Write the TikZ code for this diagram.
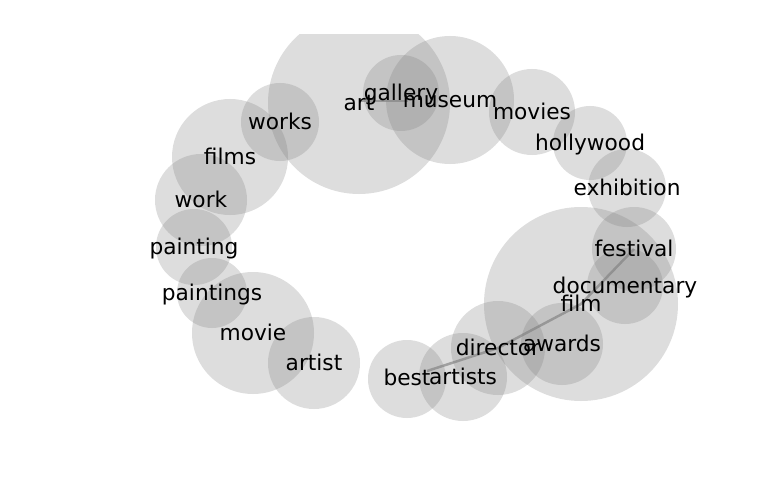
\documentclass[tikz,border=0pt]{standalone}
\usepackage{fontspec}
\setmainfont{DejaVu Sans}
\begin{document}
\begin{tikzpicture}[x=1pt,y=-1pt,
  bubble/.style={circle,draw=none,fill=gray,fill opacity=0.27,inner sep=0pt,minimum size=#1},
  word/.style={inner sep=0pt,text height=0.76em,text depth=0.236em,yshift=-5pt,font=\fontsize{21.7}{26}\selectfont,text=black},
  trail/.style={draw=gray,line width=2.5pt,draw opacity=0.65,line cap=butt,line join=round}]
\useasboundingbox (0,0) rectangle (768,500);
\begin{scope}
\clip (0,35) rectangle (768,500);
\node[bubble=182pt] (c-art) at (359,103) {};
\node[bubble=76pt] (c-gallery) at (401,93) {};
\node[bubble=128pt] (c-museum) at (450,100) {};
\node[bubble=86pt] (c-movies) at (532,112) {};
\node[bubble=74pt] (c-hollywood) at (590,143) {};
\node[bubble=78pt] (c-exhibition) at (627,188) {};
\node[bubble=84pt] (c-festival) at (634,249) {};
\node[bubble=76pt] (c-documentary) at (625,286) {};
\node[bubble=194pt] (c-film) at (581,304) {};
\node[bubble=82pt] (c-awards) at (562,344) {};
\node[bubble=94pt] (c-director) at (498,348) {};
\node[bubble=88pt] (c-artists) at (463,377) {};
\node[bubble=78pt] (c-best) at (407,379) {};
\node[bubble=92pt] (c-artist) at (314,363) {};
\node[bubble=122pt] (c-movie) at (253,333) {};
\node[bubble=70pt] (c-paintings) at (212,293) {};
\node[bubble=76pt] (c-painting) at (194,247) {};
\node[bubble=92pt] (c-work) at (201,200) {};
\node[bubble=116pt] (c-films) at (230,157) {};
\node[bubble=78pt] (c-works) at (280,122) {};
\end{scope}
\coordinate (artstart) at (359,101);
\coordinate (artend) at (408,101);
\coordinate (filmstart) at (427,371);
\draw[trail] (artstart) -- (artend);
\draw[trail] (filmstart) -- (c-director.center) -- (c-film.center) -- (c-festival.center);
\node[word] (art) at (359,103) {art};
\node[word] (gallery) at (401,93) {gallery};
\node[word] (museum) at (450,100) {museum};
\node[word] (movies) at (532,112) {movies};
\node[word] (hollywood) at (590,143) {hollywood};
\node[word] (exhibition) at (627,188) {exhibition};
\node[word] (festival) at (634,249) {festival};
\node[word] (documentary) at (625,286) {documentary};
\node[word] (film) at (581,304) {film};
\node[word] (awards) at (562,344) {awards};
\node[word] (director) at (498,348) {director};
\node[word] (artists) at (463,377) {artists};
\node[word] (best) at (407,378) {best};
\node[word] (artist) at (314,363) {artist};
\node[word] (movie) at (253,333) {movie};
\node[word] (paintings) at (212,293) {paintings};
\node[word] (painting) at (194,247) {painting};
\node[word] (work) at (201,200) {work};
\node[word] (films) at (230,157) {films};
\node[word] (works) at (280,122) {works};
\end{tikzpicture}
\end{document}
